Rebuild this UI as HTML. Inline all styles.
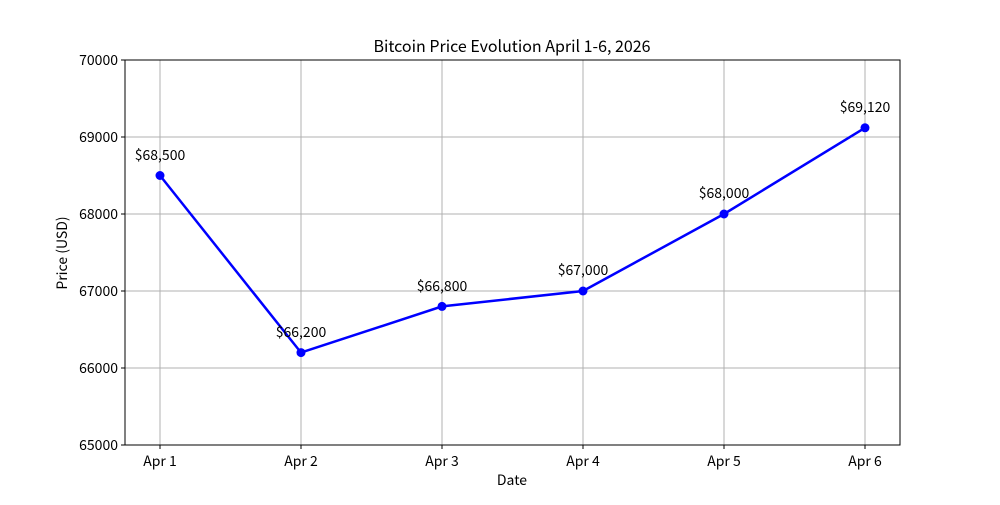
<!DOCTYPE html>
<html><head><meta charset="utf-8"><style>
html,body{margin:0;padding:0;background:#fff;}
svg text{font-family:"Noto Sans CJK JP","Liberation Sans",sans-serif;fill:#000;}
</style></head><body>
<svg width="1000" height="500" xmlns="http://www.w3.org/2000/svg">
<rect width="1000" height="500" fill="#fff"/>
<g stroke="#b0b0b0" stroke-width="1" shape-rendering="crispEdges">
<line x1="160" y1="60" x2="160" y2="445"/><line x1="301" y1="60" x2="301" y2="445"/>
<line x1="442" y1="60" x2="442" y2="445"/><line x1="583" y1="60" x2="583" y2="445"/>
<line x1="724" y1="60" x2="724" y2="445"/><line x1="865" y1="60" x2="865" y2="445"/>
<line x1="125" y1="368" x2="900" y2="368"/><line x1="125" y1="291" x2="900" y2="291"/>
<line x1="125" y1="214" x2="900" y2="214"/><line x1="125" y1="137" x2="900" y2="137"/>
</g>
<rect x="125" y="60" width="775" height="385" fill="none" stroke="#000" stroke-width="1" shape-rendering="crispEdges"/>
<g stroke="#000" stroke-width="1" shape-rendering="crispEdges">
<line x1="160" y1="445" x2="160" y2="449"/><line x1="301" y1="445" x2="301" y2="449"/>
<line x1="442" y1="445" x2="442" y2="449"/><line x1="583" y1="445" x2="583" y2="449"/>
<line x1="724" y1="445" x2="724" y2="449"/><line x1="865" y1="445" x2="865" y2="449"/>
<line x1="121" y1="445" x2="125" y2="445"/><line x1="121" y1="368" x2="125" y2="368"/>
<line x1="121" y1="291" x2="125" y2="291"/><line x1="121" y1="214" x2="125" y2="214"/>
<line x1="121" y1="137" x2="125" y2="137"/><line x1="121" y1="60" x2="125" y2="60"/>
</g>
<g font-size="14" text-anchor="middle">
<text x="160" y="466">Apr 1</text><text x="301" y="466">Apr 2</text><text x="442" y="466">Apr 3</text>
<text x="583" y="466">Apr 4</text><text x="724" y="466">Apr 5</text><text x="865" y="466">Apr 6</text>
<text x="512" y="485">Date</text>
<text x="512" y="52" font-size="16">Bitcoin Price Evolution April 1-6, 2026</text>
</g>
<g font-size="14" text-anchor="end">
<text x="118" y="450">65000</text><text x="118" y="373">66000</text><text x="118" y="296">67000</text>
<text x="118" y="219">68000</text><text x="118" y="142">69000</text><text x="118" y="65">70000</text>
</g>
<text x="67" y="253" font-size="14" text-anchor="middle" transform="rotate(-90 67 253)">Price (USD)</text>
<polyline points="160,175.5 301,352.6 442,306.4 583,291 724,214 865,127.8" fill="none" stroke="#0000ff" stroke-width="2.5"/>
<g fill="#0000ff">
<circle cx="160" cy="175.5" r="4.5"/><circle cx="301" cy="352.6" r="4.5"/><circle cx="442" cy="306.4" r="4.5"/>
<circle cx="583" cy="291" r="4.5"/><circle cx="724" cy="214" r="4.5"/><circle cx="865" cy="127.8" r="4.5"/>
</g>
<g font-size="14" text-anchor="middle">
<text x="160" y="160">$68,500</text><text x="301" y="337">$66,200</text><text x="442" y="291">$66,800</text>
<text x="583" y="275">$67,000</text><text x="724" y="198">$68,000</text><text x="865" y="112">$69,120</text>
</g>
</svg>
</body></html>
